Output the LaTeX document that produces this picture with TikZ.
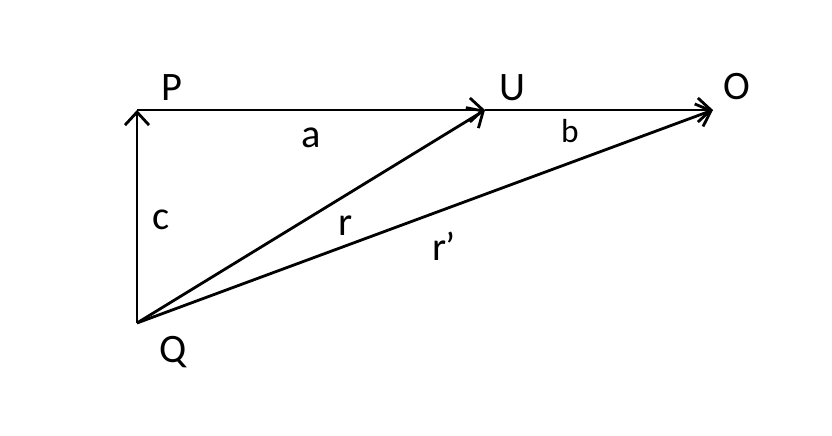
\documentclass[tikz,border=0pt]{standalone}
\usepackage{fontspec}
\setmainfont{Carlito}
\usetikzlibrary{arrows.meta, positioning}

\begin{document}
\begin{tikzpicture}[x=0.02cm, y=-0.02cm, >={Straight Barb[length=2.6mm,width=4.8mm]}, vec/.style={draw=black, line width=1.6pt}]
% Define styles for corner labels and side labels
\tikzstyle{corner} = [font=\fontsize{23}{27}\selectfont, inner sep=0pt]
\tikzstyle{side} = [font=\fontsize{23}{27}\selectfont, inner sep=0pt]
\tikzstyle{smallside} = [font=\fontsize{19}{23}\selectfont, inner sep=0pt]

\useasboundingbox (0,0) rectangle (832,436);

% Corners of the triangle
\coordinate (P) at (137,110);
\coordinate (U) at (485,110);
\coordinate (O) at (713,110);
\coordinate (Q) at (137,323);

% Corner labels
\node [corner] (Plabel) at (172,88) {P};
\node [corner] (Ulabel) at (512,88) {U};
\node [corner] (Olabel) at (737,87) {O};
\node [corner] (Qlabel) at (173,352) {Q};

% Side labels
\node [side] (alabel) at (311,138) {a};
\node [smallside] (blabel) at (570,131) {b};
\node [side] (clabel) at (161,220) {c};
\node [side] (rlabel) at (346,226) {r};
\node [side] (rplabel) at (444,246) {r\kern-1pt’};

% Draw vectors
\draw[vec,->] (Q) -- (P);
\draw[vec,->] (P) -- (U);
\draw[vec,->] (U) -- (O);
\draw[vec,->] (Q) -- (U);
\draw[vec,->] (Q) -- (O);

\end{tikzpicture}
\end{document}
